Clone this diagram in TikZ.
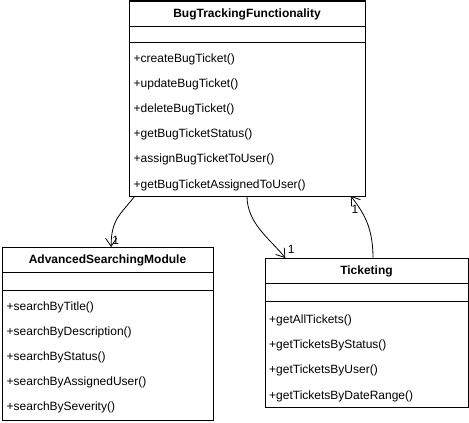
\documentclass[tikz,border=0pt]{standalone}
\usepackage{fontspec}
\setmainfont{Liberation Sans}
\usetikzlibrary{arrows.meta,calc}

\tikzset{
  classbox/.style={draw, line width=1pt, anchor=north west, inner sep=0pt, outer sep=0pt},
  classname/.style={font=\fontsize{12}{14}\selectfont\bfseries, inner sep=0pt},
  method/.style={font=\fontsize{12}{14}\selectfont, anchor=west, inner sep=0pt},
  mult/.style={font=\fontsize{12}{14}\selectfont, inner sep=0pt},
  divider/.style={line width=1pt},
  assoc/.style={line width=0.8pt, -{Straight Barb[length=8pt,width=11pt]}},
}

\begin{document}
\begin{tikzpicture}[x=1pt, y=-1pt]
    \useasboundingbox (0,0) rectangle (469,423);

    % BugTrackingFunctionality
    \node[classbox, minimum width=236pt, minimum height=195pt] (bug) at (129,1) {};
    \node[classname] (bugname) at ($(bug.north)+(0,13)$) {BugTrackingFunctionality};
    \draw[divider] ($(bug.north west)+(0,25)$) -- ($(bug.north east)+(0,25)$); % title
    \draw[divider] ($(bug.north west)+(0,41)$) -- ($(bug.north east)+(0,41)$); % attributes
    \foreach \m [count=\i from 0] in {createBugTicket, updateBugTicket, deleteBugTicket,
        getBugTicketStatus, assignBugTicketToUser, getBugTicketAssignedToUser}
        \node[method] (bugop\i) at ($(bug.north west)+(4.5,{58+25.2*\i})$) {+\m()};

    % AdvancedSearchingModule
    \node[classbox, minimum width=211pt, minimum height=173pt] (adv) at (2,247) {};
    \node[classname] (advname) at ($(adv.north)+(0,13)$) {AdvancedSearchingModule};
    \draw[divider] ($(adv.north west)+(0,25)$) -- ($(adv.north east)+(0,25)$); % title
    \draw[divider] ($(adv.north west)+(0,43)$) -- ($(adv.north east)+(0,43)$); % attributes
    \foreach \m [count=\i from 0] in {searchByTitle, searchByDescription, searchByStatus,
        searchByAssignedUser, searchBySeverity}
        \node[method] (advop\i) at ($(adv.north west)+(4.5,{60+25*\i})$) {+\m()};

    % Ticketing
    \node[classbox, minimum width=203pt, minimum height=149pt] (tick) at (265,258) {};
    \node[classname] (tickname) at ($(tick.north)+(0,13)$) {Ticketing};
    \draw[divider] ($(tick.north west)+(0,25)$) -- ($(tick.north east)+(0,25)$); % title
    \draw[divider] ($(tick.north west)+(0,43.5)$) -- ($(tick.north east)+(0,43.5)$); % attributes
    \foreach \m [count=\i from 0] in {getAllTickets, getTicketsByStatus, getTicketsByUser,
        getTicketsByDateRange}
        \node[method] (tickop\i) at ($(tick.north west)+(4,{62+25.4*\i})$) {+\m()};

    % connector ends
    \coordinate (bugout1) at ($(bug.south west)!.025!(bug.south east)$);
    \coordinate (bugout2) at (bug.south);
    \coordinate (bugin)   at ($(bug.south west)!.94!(bug.south east)$);
    \coordinate (advin)   at ($(adv.north west)!.517!(adv.north east)$);
    \coordinate (tickin)  at ($(tick.north west)!.1!(tick.north east)$);
    \coordinate (tickout) at ($(tick.north west)!.532!(tick.north east)$);

    \draw[assoc] (bugout1) .. controls +(-14,18) and +(0,-28) .. (advin);
    \draw[assoc] (bugout2) .. controls +(0,28) and +(-14,-18) .. (tickin);
    \draw[assoc] (tickout) .. controls +(0,-32) and +(12,16) .. (bugin);

    \node[mult] (advmult)  at ($(advin)+(4.5,-6.5)$) {1};
    \node[mult] (tickmult) at ($(tickin)+(6,-8.5)$) {1};
    \node[mult] (bugmult)  at ($(bugin)+(4,13)$) {1};
\end{tikzpicture}
\end{document}
